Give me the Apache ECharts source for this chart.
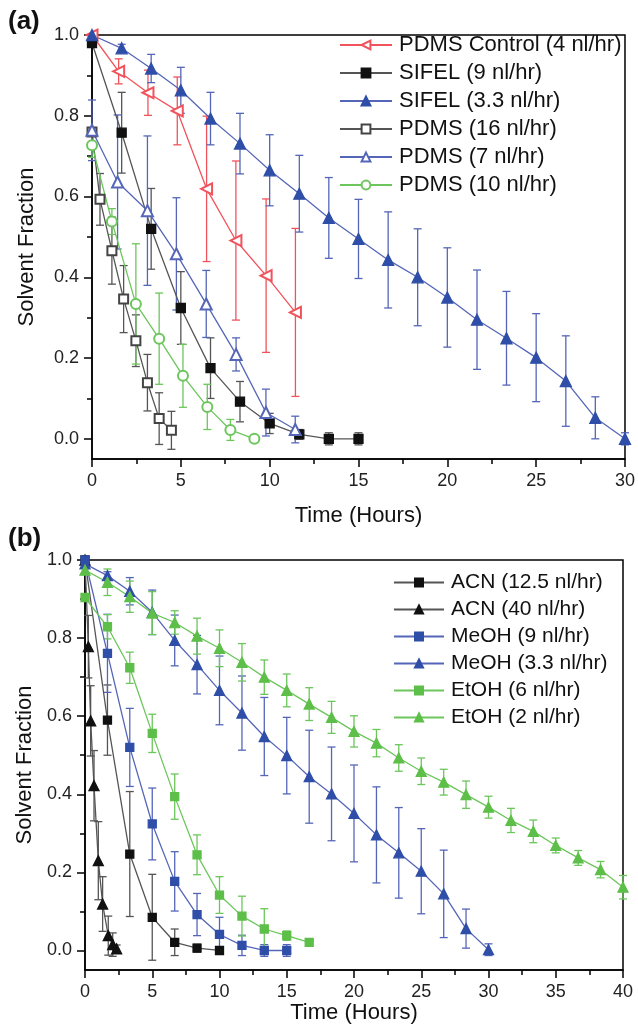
<!DOCTYPE html>
<html>
<head>
<meta charset="utf-8">
<script src="https://cdn.jsdelivr.net/npm/echarts@6/dist/echarts.min.js"></script>
<style>
html,body{margin:0;padding:0;background:#fff;}
#chart{width:638px;height:1025px;}
</style>
</head>
<body>
<div id="chart"></div>
<script>
// ---------- Panel (a) data ----------
var ctrlT  = [0, 1.5, 3.15, 4.8, 6.45, 8.1, 9.8, 11.45];
var ctrlY  = [1.0, 0.91, 0.857, 0.812, 0.619, 0.491, 0.404, 0.313];
var ctrlE  = [0, 0.031, 0.056, 0.084, 0.18, 0.197, 0.19, 0.208];

var sifel9T = [0, 1.67, 3.33, 5, 6.67, 8.33, 10, 11.67, 13.33, 15];
var sifel9Y = [0.98, 0.758, 0.52, 0.324, 0.175, 0.092, 0.038, 0.011, 0, 0];
var sifel9E = [0, 0.1, 0.1, 0.09, 0.075, 0.05, 0.025, 0.012, 0.015, 0.015];

var sifel33T = [0, 1.67, 3.33, 5, 6.67, 8.33, 10, 11.67, 13.33, 15, 16.67, 18.33, 20, 21.67, 23.33, 25, 26.67, 28.33, 30];
var sifel33Y = [1.0, 0.967, 0.917, 0.863, 0.793, 0.731, 0.665, 0.607, 0.547, 0.495, 0.443, 0.40, 0.35, 0.295, 0.249, 0.201, 0.143, 0.052, 0.0];
var sifel33E = [0, 0.01, 0.035, 0.057, 0.065, 0.075, 0.088, 0.095, 0.1, 0.098, 0.119, 0.12, 0.123, 0.123, 0.116, 0.109, 0.112, 0.052, 0.015];

var pd16T = [0, 0.45, 1.12, 1.78, 2.47, 3.12, 3.78, 4.47];
var pd16Y = [0.76, 0.593, 0.466, 0.346, 0.243, 0.139, 0.05, 0.021];
var pd16E = [0, 0.064, 0.083, 0.083, 0.064, 0.07, 0.064, 0.047];

var pd7T = [0, 1.44, 3.12, 4.75, 6.43, 8.11, 9.79, 11.44];
var pd7Y = [0.764, 0.636, 0.565, 0.458, 0.334, 0.209, 0.065, 0.023];
var pd7E = [0.075, 0.166, 0.185, 0.139, 0.083, 0.041, 0.058, 0.033];

var pd10T = [0, 1.12, 2.47, 3.78, 5.12, 6.49, 7.79, 9.14];
var pd10Y = [0.727, 0.538, 0.334, 0.248, 0.156, 0.079, 0.022, 0.0];
var pd10E = [0.03, 0.032, 0.149, 0.113, 0.078, 0.056, 0.026, 0];

// ---------- Panel (b) data ----------
var acn125T = [0, 1.67, 3.33, 5, 6.67, 8.33, 10];
var acn125Y = [1.0, 0.59, 0.247, 0.085, 0.021, 0.006, 0.0];
var acn125E = [0, 0.09, 0.16, 0.11, 0.034, 0.01, 0.005];

var acn40T = [0, 0.25, 0.42, 0.67, 0.99, 1.31, 1.73, 2.06, 2.35];
var acn40Y = [1.0, 0.778, 0.588, 0.422, 0.23, 0.119, 0.038, 0.015, 0.004];
var acn40E = [0, 0.08, 0.09, 0.09, 0.1, 0.07, 0.05, 0.03, 0.01];

var meoh9T = [0, 1.67, 3.33, 5, 6.67, 8.33, 10, 11.67, 13.33, 15];
var meoh9Y = [1.0, 0.761, 0.52, 0.324, 0.177, 0.092, 0.041, 0.013, 0, 0];
var meoh9E = [0, 0.1, 0.1, 0.092, 0.076, 0.054, 0.044, 0.026, 0.015, 0.015];

var meoh33T = [0, 1.67, 3.33, 5, 6.67, 8.33, 10, 11.67, 13.33, 15, 16.67, 18.33, 20, 21.67, 23.33, 25, 26.67, 28.33, 30];
var meoh33Y = [0.99, 0.96, 0.92, 0.866, 0.794, 0.732, 0.666, 0.608, 0.548, 0.499, 0.445, 0.401, 0.351, 0.296, 0.25, 0.203, 0.145, 0.056, 0.002];
var meoh33E = [0, 0.01, 0.035, 0.057, 0.065, 0.075, 0.088, 0.095, 0.1, 0.098, 0.119, 0.12, 0.124, 0.123, 0.116, 0.109, 0.112, 0.05, 0.015];

var etoh6T = [0, 1.67, 3.33, 5, 6.67, 8.33, 10, 11.67, 13.33, 15, 16.67];
var etoh6Y = [0.904, 0.829, 0.724, 0.556, 0.394, 0.245, 0.142, 0.088, 0.055, 0.038, 0.021];
var etoh6E = [0, 0.031, 0.04, 0.049, 0.058, 0.051, 0.047, 0.051, 0.052, 0.012, 0.008];

var etoh2T = [0, 1.67, 3.33, 5, 6.67, 8.33, 10, 11.67, 13.33, 15, 16.67, 18.33, 20, 21.67, 23.33, 25, 26.67, 28.33, 30, 31.67, 33.33, 35, 36.67, 38.33, 40];
var etoh2Y = [0.974, 0.943, 0.906, 0.864, 0.84, 0.805, 0.774, 0.738, 0.7, 0.666, 0.631, 0.597, 0.561, 0.531, 0.493, 0.459, 0.431, 0.399, 0.367, 0.333, 0.305, 0.269, 0.237, 0.207, 0.162];
var etoh2E = [0, 0.034, 0.04, 0.055, 0.03, 0.046, 0.047, 0.048, 0.044, 0.042, 0.042, 0.041, 0.04, 0.035, 0.034, 0.034, 0.033, 0.035, 0.028, 0.031, 0.029, 0.019, 0.019, 0.021, 0.03];

// ---------- Axis tick values ----------
var yMajor = [0, 0.2, 0.4, 0.6, 0.8, 1.0];
var yMinor = [0.1, 0.3, 0.5, 0.7, 0.9];

var legendA = ['PDMS Control (4 nl/hr)', 'SIFEL (9 nl/hr)', 'SIFEL (3.3 nl/hr)', 'PDMS (16 nl/hr)', 'PDMS (7 nl/hr)', 'PDMS (10 nl/hr)'];
var legendB = ['ACN (12.5 nl/hr)', 'ACN (40 nl/hr)', 'MeOH (9 nl/hr)', 'MeOH (3.3 nl/hr)', 'EtOH (6 nl/hr)', 'EtOH (2 nl/hr)'];

var FONT = '"Liberation Sans", Arial, sans-serif';

function pts(t, y) { return t.map(function (v, i) { return [v, y[i]]; }); }
function errPts(t, y, e) { return t.map(function (v, i) { return [v, y[i], e[i]]; }); }

function errSeries(t, y, e, color, gi) {
  return {
    type: 'custom', xAxisIndex: gi, yAxisIndex: gi * 2, z: 1, silent: true,
    encode: { x: 0, y: 1 },
    data: errPts(t, y, e),
    clip: false,
    renderItem: function (params, api) {
      var err = api.value(2);
      if (!err) return null;
      var x = api.value(0), yy = api.value(1);
      var p1 = api.coord([x, yy + err]);
      var p2 = api.coord([x, yy - err]);
      var w = 4;
      var st = { stroke: color, lineWidth: 1.3 };
      return {
        type: 'group',
        children: [
          { type: 'line', shape: { x1: p1[0], y1: p1[1], x2: p2[0], y2: p2[1] }, style: st },
          { type: 'line', shape: { x1: p1[0] - w, y1: p1[1], x2: p1[0] + w, y2: p1[1] }, style: st },
          { type: 'line', shape: { x1: p2[0] - w, y1: p2[1], x2: p2[0] + w, y2: p2[1] }, style: st }
        ]
      };
    }
  };
}

function lineSeries(name, t, y, gi, symbol, size, mColor, lColor, rotate) {
  return {
    name: name, type: 'line', xAxisIndex: gi, yAxisIndex: gi * 2, z: 3,
    data: pts(t, y), symbol: symbol, symbolSize: size, symbolRotate: rotate || 0,
    showAllSymbol: true, silent: true,
    itemStyle: { color: mColor, borderColor: mColor, borderWidth: 1.3 },
    lineStyle: { color: lColor, width: 1.3 },
    emphasis: { disabled: true }
  };
}

var RED = '#f0535c', BLK = '#111111', GRY = '#555555', BLU = '#2f4ea8', BLUL = '#5566b8', GRN = '#5dbf49', GRNL = '#6cc65c';

function xAxisDef(gi, max, gap) {
  return {
    type: 'value', gridIndex: gi, min: 0, max: max, interval: 5,
    axisLine: { show: true, onZero: false, lineStyle: { color: '#000', width: 1.5 } },
    axisTick: { show: true, length: 8, lineStyle: { color: '#000', width: 1.5 } },
    minorTick: { show: true, splitNumber: 2, length: 5, lineStyle: { color: '#000', width: 1.5 } },
    splitLine: { show: false }, minorSplitLine: { show: false },
    axisLabel: { fontSize: 18, color: '#222', fontFamily: FONT, margin: 13 },
    name: 'Time (Hours)', nameLocation: 'middle', nameGap: gap,
    nameTextStyle: { fontSize: 22, color: '#111', fontFamily: FONT }
  };
}
function yAxisMain(gi, gap) {
  return {
    type: 'value', gridIndex: gi, min: -0.05, max: 1.0,
    axisLine: { show: true, onZero: false, lineStyle: { color: '#000', width: 1.5 } },
    axisTick: { show: true, length: 8, customValues: yMajor, lineStyle: { color: '#000', width: 1.5 } },
    axisLabel: { customValues: yMajor, fontSize: 18, color: '#222', fontFamily: FONT, margin: 13,
      formatter: function (v) { return v.toFixed(1); } },
    splitLine: { show: false },
    name: 'Solvent Fraction', nameLocation: 'middle', nameGap: gap,
    nameTextStyle: { fontSize: 22, color: '#111', fontFamily: FONT }
  };
}
function yAxisMinor(gi) {
  return {
    type: 'value', gridIndex: gi, min: -0.05, max: 1.0, position: 'left',
    axisLine: { show: false },
    axisTick: { show: true, length: 5, customValues: yMinor, lineStyle: { color: '#000', width: 1.5 } },
    axisLabel: { show: false }, splitLine: { show: false }
  };
}

var series = [
  // panel a error bars
  errSeries(ctrlT, ctrlY, ctrlE, RED, 0),
  errSeries(sifel9T, sifel9Y, sifel9E, GRY, 0),
  errSeries(sifel33T, sifel33Y, sifel33E, BLUL, 0),
  errSeries(pd16T, pd16Y, pd16E, GRY, 0),
  errSeries(pd7T, pd7Y, pd7E, BLUL, 0),
  errSeries(pd10T, pd10Y, pd10E, GRNL, 0),
  // panel a lines
  lineSeries(legendA[0], ctrlT, ctrlY, 0, 'emptyTriangle', 11, RED, RED, 90),
  lineSeries(legendA[1], sifel9T, sifel9Y, 0, 'rect', 9, BLK, GRY),
  lineSeries(legendA[2], sifel33T, sifel33Y, 0, 'triangle', 11, BLU, BLUL),
  lineSeries(legendA[3], pd16T, pd16Y, 0, 'emptyRect', 9, '#444', GRY),
  lineSeries(legendA[4], pd7T, pd7Y, 0, 'emptyTriangle', 11, BLUL, BLUL),
  lineSeries(legendA[5], pd10T, pd10Y, 0, 'emptyCircle', 10, GRNL, GRNL),
  // panel b error bars
  errSeries(acn125T, acn125Y, acn125E, GRY, 1),
  errSeries(acn40T, acn40Y, acn40E, GRY, 1),
  errSeries(meoh9T, meoh9Y, meoh9E, BLUL, 1),
  errSeries(meoh33T, meoh33Y, meoh33E, BLUL, 1),
  errSeries(etoh6T, etoh6Y, etoh6E, GRNL, 1),
  errSeries(etoh2T, etoh2Y, etoh2E, GRNL, 1),
  // panel b lines
  lineSeries(legendB[0], acn125T, acn125Y, 1, 'rect', 8, BLK, GRY),
  lineSeries(legendB[1], acn40T, acn40Y, 1, 'triangle', 10, BLK, GRY),
  lineSeries(legendB[2], meoh9T, meoh9Y, 1, 'rect', 8, BLU, BLUL),
  lineSeries(legendB[3], meoh33T, meoh33Y, 1, 'triangle', 10, BLU, BLUL),
  lineSeries(legendB[4], etoh6T, etoh6Y, 1, 'rect', 8, GRN, GRNL),
  lineSeries(legendB[5], etoh2T, etoh2Y, 1, 'triangle', 10, GRN, GRNL)
];

var chart = echarts.init(document.getElementById('chart'), null, { renderer: 'canvas' });
chart.setOption({
  backgroundColor: '#fff',
  animation: false,
  textStyle: { fontFamily: FONT },
  grid: [
    { left: 92, top: 35, width: 535, height: 424, show: true, borderColor: '#000', borderWidth: 1.5, backgroundColor: 'transparent', containLabel: false },
    { left: 85, top: 560, width: 538, height: 410, show: true, borderColor: '#000', borderWidth: 1.5, backgroundColor: 'transparent', containLabel: false }
  ],
  xAxis: [xAxisDef(0, 30, 46), xAxisDef(1, 40, 32)],
  yAxis: [yAxisMain(0, 54), yAxisMinor(0), yAxisMain(1, 45), yAxisMinor(1)],
  legend: [
    { data: legendA, orient: 'vertical', left: 339, top: 34, padding: 0, itemWidth: 52, itemHeight: 11, itemGap: 6,
      selectedMode: false, textStyle: { fontSize: 22, lineHeight: 22, color: '#111', fontFamily: FONT, padding: [0, 0, 0, 2] } },
    { data: legendB, orient: 'vertical', left: 393, top: 572, padding: 0, itemWidth: 50, itemHeight: 10, itemGap: 6,
      selectedMode: false, textStyle: { fontSize: 21, lineHeight: 21, color: '#111', fontFamily: FONT, padding: [0, 0, 0, 2] } }
  ],
  graphic: [
    { type: 'text', left: 8, top: 9, style: { text: '(a)', font: 'bold 26px ' + FONT, fill: '#111' } },
    { type: 'text', left: 8, top: 526, style: { text: '(b)', font: 'bold 26px ' + FONT, fill: '#111' } }
  ],
  series: series
});
</script>
</body>
</html>
